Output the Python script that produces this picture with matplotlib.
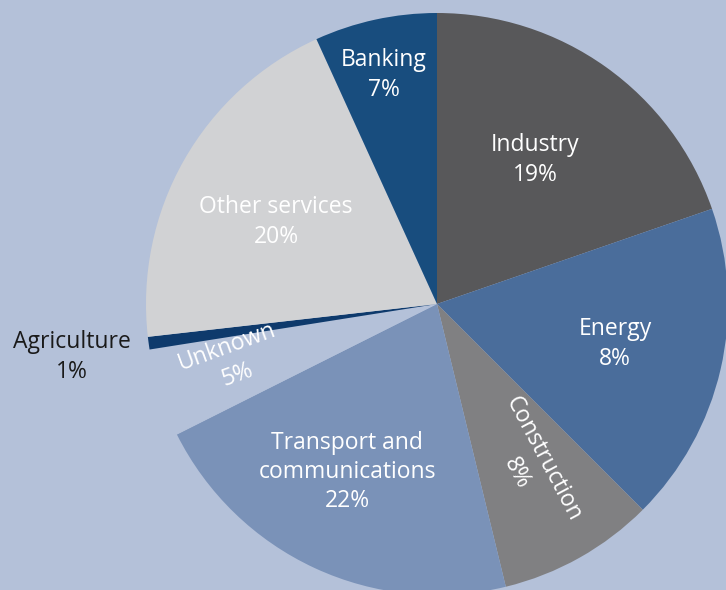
import matplotlib.pyplot as plt

# slice sizes as drawn (percent); the printed labels are kept separately
sectors = ["Industry", "Energy", "Construction", "Transport and\ncommunications",
           "Unknown", "Agriculture", "Other services", "Banking"]
sizes = [19.7, 17.8, 8.7, 21.4, 4.9, 0.7, 20.0, 6.8]
pct_labels = ["19%", "8%", "8%", "22%", "5%", "1%", "20%", "7%"]
colors = ["#58585a", "#4a6d9b", "#808082", "#7a92b8",
          "#b4c1d9", "#0e3a6c", "#d1d2d4", "#184d7e"]

BG = "#b4c1d9"
plt.rcParams['font.family'] = ['Open Sans', 'DejaVu Sans']


def main():
  fig = plt.figure(figsize=(7.26, 5.90), dpi=100, facecolor=BG)
  ax = fig.add_axes([0, 0, 1, 1])
  ax.set_facecolor(BG)

  wedges, _ = ax.pie(sizes, colors=colors, startangle=90, counterclock=False,
                     radius=1.0, center=(0, 0),
                     wedgeprops=dict(linewidth=0))

  # pie centre at pixel (437, 304), radius ~291 px
  cx, cy, r = 437.0, 304.0, 291.0
  ax.set_xlim(-cx / r, (726 - cx) / r)
  ax.set_ylim(-(590 - cy) / r, cy / r)
  ax.set_aspect('equal')
  ax.axis('off')

  def px(x, y):
    return (x - cx) / r, (cy - y) / r

  # label positions (pixels) and rotation per slice
  spots = {
    0: (535, 160, 0, 'white'),
    1: (615, 344, 0, 'white'),
    2: (530, 466, -62, 'white'),
    3: (347, 472, 0, 'white'),
    4: (232, 361, 20, 'white'),
    5: (72, 357, 0, '#1a1a1a'),
    6: (276, 222, 0, 'white'),
    7: (384, 75, 0, 'white'),
  }
  for i, (x, y, rot, col) in spots.items():
    name = sectors[i]
    ax.text(*px(x, y), f"{name}\n{pct_labels[i]}", ha='center', va='center',
            fontsize=16.5, color=col, rotation=rot, rotation_mode='anchor',
            linespacing=1.3)

  fig.savefig("out.png", dpi=100, facecolor=BG)


if __name__ == '__main__':
  main()
